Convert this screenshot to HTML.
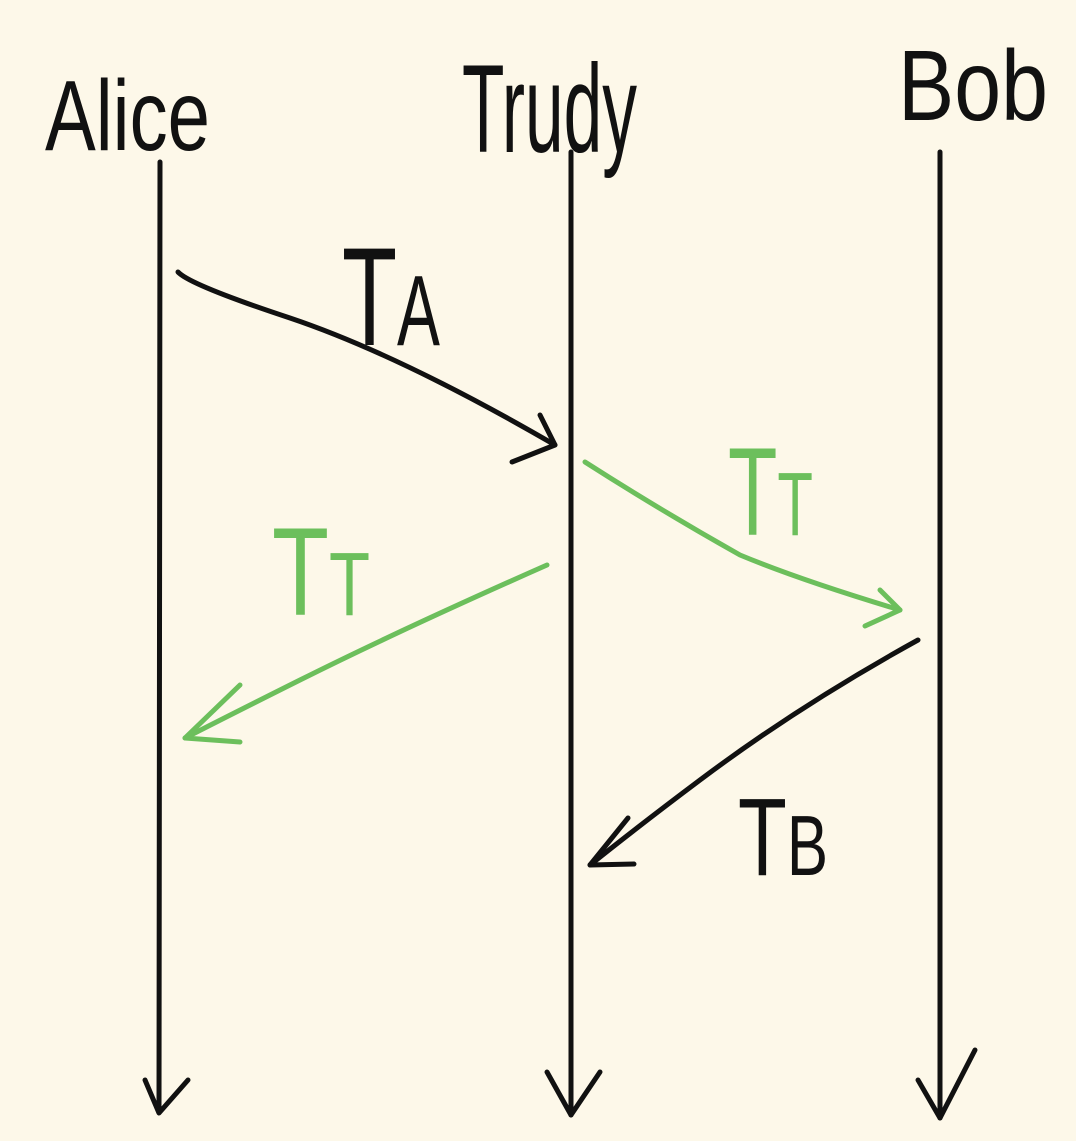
<!DOCTYPE html>
<html><head><meta charset="utf-8"><style>
html,body{margin:0;padding:0;background:#fdf8e9;}
svg{display:block}
text{font-family:"Liberation Sans",sans-serif;}
</style></head><body>
<svg width="1076" height="1141" viewBox="0 0 1076 1141">
<rect width="1076" height="1141" fill="#fdf8e9"/>
<g fill="none" stroke="#111" stroke-width="5" stroke-linecap="round" stroke-linejoin="round">
  <path d="M160 162 L159 1112"/>
  <path d="M145 1080 L159 1113 L188 1080"/>
  <path d="M571 152 L571 1115"/>
  <path d="M547 1072 L571 1115 L600 1072"/>
  <path d="M940 152 L940 1118"/>
  <path d="M918 1080 L940 1118 L975 1050"/>
  <path d="M178 272 Q190 285 290 318 Q400 355 555 445"/>
  <path d="M512 462 L555 445 L540 415"/>
  <path d="M918 640 Q800 705 700 780 Q640 825 590 865"/>
  <path d="M628 818 L590 865 L634 864"/>
</g>
<g fill="none" stroke="#6cbf5c" stroke-width="5" stroke-linecap="round" stroke-linejoin="round">
  <path d="M585 462 Q660 510 740 555 Q800 580 900 610"/>
  <path d="M865 626 L900 610 L880 590"/>
  <path d="M547 565 Q400 630 300 680 Q230 715 185 738"/>
  <path d="M240 685 L185 738 L240 742"/>
</g>
<g fill="#111">
  <text x="45" y="150" font-size="100" textLength="165" lengthAdjust="spacingAndGlyphs">Alice</text>
  <text x="462" y="152" font-size="125" textLength="175" lengthAdjust="spacingAndGlyphs">Trudy</text>
  <text x="898" y="120" font-size="100" textLength="150" lengthAdjust="spacingAndGlyphs">Bob</text>
  <text x="342" y="345" font-size="140" textLength="98" lengthAdjust="spacingAndGlyphs">T<tspan font-size="100">A</tspan></text>
  <text x="738" y="875" font-size="110" textLength="90" lengthAdjust="spacingAndGlyphs">T<tspan font-size="85">B</tspan></text>
</g>
<g fill="#6cbf5c">
  <text x="728" y="535" font-size="125" textLength="85" lengthAdjust="spacingAndGlyphs">T<tspan font-size="90">T</tspan></text>
  <text x="272" y="615" font-size="125" textLength="98" lengthAdjust="spacingAndGlyphs">T<tspan font-size="90">T</tspan></text>
</g>
</svg>
</body></html>
